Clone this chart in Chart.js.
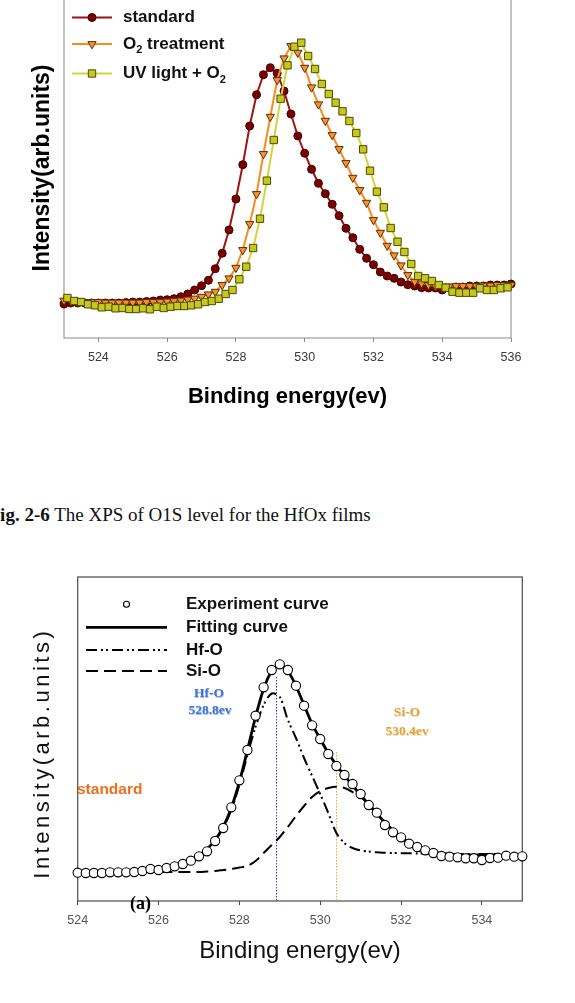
<!DOCTYPE html>
<html>
<head>
<meta charset="utf-8">
<title>XPS O1S</title>
<script src="https://cdn.jsdelivr.net/npm/chart.js@4.4.1/dist/chart.umd.min.js"></script>
<style>
    html, body { margin: 0; padding: 0; background: #fff; }
    body { width: 575px; height: 1003px; position: relative; overflow: hidden; font-family: 'Liberation Sans', Arial, sans-serif; }
    canvas { position: absolute; left: 0; }
    #top-chart { top: -20px; }
    #bottom-chart { top: 560px; }
    .note { position: absolute; white-space: nowrap; line-height: 1; transform: translate(-50%, -50%); }
    .peak { font-family: 'Liberation Serif', 'Times New Roman', serif; font-weight: bold; font-size: 13.5px; }
    .hf { color: #4071d8; text-shadow: 0.6px 0.6px 0 rgba(64, 113, 216, 0.45); }
    .si { color: #e2a540; text-shadow: 0.6px 0.6px 0 rgba(226, 165, 64, 0.45); }
    .sample { color: #ef6f1e; font-weight: bold; font-size: 15.5px; transform: translate(0, -50%); }
    .panel { font-family: 'Liberation Serif', 'Times New Roman', serif; font-weight: bold; font-size: 18px; transform: translate(0, -50%); }
    .caption { position: absolute; left: -11.5px; top: 504px; font-family: 'Liberation Serif', 'Times New Roman', serif; font-size: 19px; white-space: nowrap; color: #111; }
</style>
</head>
<body>
<canvas id="top-chart" width="575" height="440"></canvas>
<div class="caption"><b>Fig. 2-6</b> The XPS of O1S level for the HfOx films</div>
<canvas id="bottom-chart" width="575" height="443"></canvas>
<div class="note peak hf" style="left:209px; top:693px;">Hf-O</div>
<div class="note peak hf" style="left:210px; top:710px;">528.8ev</div>
<div class="note peak si" style="left:407px; top:712px;">Si-O</div>
<div class="note peak si" style="left:407px; top:731px;">530.4ev</div>
<div class="note sample" style="left:77px; top:789px;">standard</div>
<div class="note panel" style="left:130px; top:903px;">(a)</div>
<script>
// --- Fig. 2-6, O1S spectra of the three treatments ---
const topEnergy = [
    523.0, 523.2, 523.4, 523.6, 523.8, 524.0, 524.2, 524.4, 524.6, 524.8,
    525.0, 525.2, 525.4, 525.6, 525.8, 526.0, 526.2, 526.4, 526.6, 526.8,
    527.0, 527.2, 527.4, 527.6, 527.8, 528.0, 528.2, 528.4, 528.6, 528.8,
    529.0, 529.2, 529.4, 529.6, 529.8, 530.0, 530.2, 530.4, 530.6, 530.8,
    531.0, 531.2, 531.4, 531.6, 531.8, 532.0, 532.2, 532.4, 532.6, 532.8,
    533.0, 533.2, 533.4, 533.6, 533.8, 534.0, 534.2, 534.4, 534.6, 534.8,
    535.0, 535.2, 535.4, 535.6, 535.8, 536.0
];
const uvEnergy = [
    523.1, 523.3, 523.5, 523.7, 523.9, 524.1, 524.3, 524.5, 524.7, 524.9,
    525.1, 525.3, 525.5, 525.7, 525.9, 526.1, 526.3, 526.5, 526.7, 526.9,
    527.1, 527.3, 527.5, 527.7, 527.9, 528.1, 528.3, 528.5, 528.7, 528.9,
    529.1, 529.3, 529.5, 529.7, 529.9, 530.1, 530.3, 530.5, 530.7, 530.9,
    531.1, 531.3, 531.5, 531.7, 531.9, 532.1, 532.3, 532.5, 532.7, 532.9,
    533.1, 533.3, 533.5, 533.7, 533.9, 534.1, 534.3, 534.5, 534.7, 534.9,
    535.1, 535.3, 535.5, 535.7, 535.9
];
const standardValues = [
    34, 35, 35, 35, 35, 35, 35, 35, 35, 35.5,
    36, 36, 36.5, 37, 38, 38.3, 39.3, 41.3, 44, 48,
    52.3, 57.7, 69.3, 84.7, 108, 139, 173.3, 212, 243.3, 263.3,
    270.3, 264.7, 247, 224, 202, 184.7, 168.7, 154.7, 144.3, 133.7,
    122.3, 109.7, 100.3, 88.7, 79.7, 73.3, 66, 62, 59.7, 56,
    53.3, 52, 50.3, 50, 50, 48, 50, 51, 51, 52,
    52, 52, 53, 53, 53, 54
];
const o2Values = [
    37.5, 37, 36.5, 36, 36, 36, 35.5, 35.5, 35.5, 35.5,
    35.5, 35.5, 36, 36, 36, 36.5, 37, 37.5, 38.5, 39.5,
    41.3, 43.7, 46.3, 53, 59.7, 70.3, 88, 114, 144, 184,
    221.3, 258, 279.7, 292, 285.3, 270.3, 250.7, 233.7, 217.3, 203,
    189, 175, 160.3, 148, 135.3, 118, 105.3, 92.3, 82.7, 72.7,
    63, 56.3, 54.7, 53, 52, 51.5, 51.5, 52, 52, 52,
    52, 52.5, 52.5, 53, 53, 53
];
const uvValues = [
    40, 37, 36, 33.7, 32.7, 30.7, 31.3, 29.7, 30, 29,
    29, 29.7, 28.7, 31.3, 30, 31.3, 32, 32, 32.7, 33.7,
    36, 37, 39.3, 44, 48, 58.7, 71.3, 90, 119.3, 157.3,
    198, 239.3, 272.7, 291.3, 295.3, 282, 269, 254, 244, 235.3,
    226.7, 217, 205, 188.7, 167.3, 146.3, 130.7, 110, 96.3, 86,
    74, 62, 59.7, 57, 53, 50.3, 46.3, 45.3, 45.3, 45.3,
    49.7, 48, 48, 49.7, 50.7
];
const topLabels = ['standard', 'O_2 treatment', 'UV light + O_2'];
const topTicks = [524, 526, 528, 530, 532, 534, 536];

// --- panel (a), peak fit of the standard film ---
const expEnergy = [
    524.0, 524.2, 524.4, 524.6, 524.8, 525.0, 525.2, 525.4, 525.6, 525.8,
    526.0, 526.2, 526.4, 526.6, 526.8, 527.0, 527.2, 527.4, 527.6, 527.8,
    528.0, 528.2, 528.4, 528.6, 528.8, 529.0, 529.2, 529.4, 529.6, 529.8,
    530.0, 530.2, 530.4, 530.6, 530.8, 531.0, 531.2, 531.4, 531.6, 531.8,
    532.0, 532.2, 532.4, 532.6, 532.8, 533.0, 533.2, 533.4, 533.6, 533.8,
    534.0, 534.2, 534.4, 534.6, 534.8, 535.0
];
const expValues = [
    28.3, 28, 28, 28, 28.7, 28.7, 28.7, 29, 30, 32,
    31, 33, 34.7, 37, 40.3, 44.7, 49.7, 60, 73, 93.7,
    120.7, 151, 185.3, 213.7, 231, 236.7, 231, 215.3, 195.3, 175.7,
    162, 147, 135, 126, 117, 107, 96, 88.3, 76, 68.7,
    63.7, 57.3, 54, 50.7, 48, 45, 44.3, 43.7, 42.7, 42.7,
    41, 43, 43.3, 45.3, 44.3, 44.7
];
const fitEnergy = [
    525.6, 525.8, 526.0, 526.2, 526.4, 526.6, 526.8, 527.0, 527.2, 527.4,
    527.6, 527.8, 528.0, 528.2, 528.4, 528.6, 528.8, 529.0, 529.2, 529.4,
    529.6, 529.8, 530.0, 530.2, 530.4, 530.6, 530.8, 531.0, 531.2, 531.4,
    531.6, 531.8, 532.0, 532.2, 532.4, 532.6, 532.8, 533.0, 533.2, 533.4,
    533.6, 533.8, 534.0, 534.2, 534.4
];
const fitValues = [
    29.5, 30.5, 31.5, 33, 35, 37.5, 41, 45.5, 52, 61,
    74, 93, 119, 151, 184, 212, 230, 236, 230, 215,
    196, 177, 162, 148, 136, 125.5, 115.5, 106, 96.5, 87.5,
    78.5, 70.5, 64, 58.5, 54, 51, 49, 47.5, 46.8, 46.3,
    46, 46, 46, 46, 46
];
const hfoValues = [
    29.5, 30.5, 31.5, 33, 35, 37.5, 41, 45.5, 52, 60.5,
    73, 91, 116, 146, 174, 196, 207.5, 204, 181, 163,
    143, 125, 107, 88, 68, 58, 53, 50.5, 49.5, 48.7,
    48.3, 48, 47.8, 47.7, 47.5, 47.3, 47.2, 47, 47, 47,
    47, 47, 47, 47, 47
];
const sioValues = [
    29, 29, 29, 29, 29, 29, 29, 29, 29.5, 30,
    31, 32, 33.5, 35, 40, 48, 56, 64, 74, 85,
    95, 104, 110, 113, 114.3, 113, 109, 104, 97, 88,
    79, 71, 63, 56, 51, 48, 47, 46.5, 46, 46,
    46, 46, 46, 46, 46
];
const bottomLabels = ['Experiment curve', 'Fitting curve', 'Hf-O', 'Si-O'];
const bottomTicks = [524, 526, 528, 530, 532, 534];
const peakEnergy = [528.9, 530.4];
const peakLineTop = [224, 149];
const peakLineColors = ['#3140e0', '#f5a623'];
const intensityTitle = 'Intensity(arb.units)';

const FONT = "'Liberation Sans', Arial, sans-serif";
Chart.defaults.font.family = FONT;
Chart.defaults.color = '#3a3a3a';

function toPoints(xs, ys) {
    return xs.map((x, i) => ({ x, y: ys[i] }));
}

function fixedTicks(values) {
    return (scale) => {
        scale.ticks = values.map((value) => ({ value }));
    };
}

const framePlugin = {
    id: 'frame',
    beforeDatasetsDraw(chart, args, opts) {
        const { ctx, chartArea: a } = chart;
        ctx.save();
        ctx.strokeStyle = opts.color;
        ctx.lineWidth = opts.width;
        ctx.strokeRect(a.left, a.top, a.right - a.left, a.bottom - a.top);
        ctx.restore();
    }
};

const peakLinePlugin = {
    id: 'peakLines',
    beforeDatasetsDraw(chart, args, opts) {
        if (!opts.energies) {
            return;
        }
        const { ctx, scales: { x, y } } = chart;
        ctx.save();
        ctx.lineWidth = 1;
        ctx.setLineDash([1.5, 1.5]);
        opts.energies.forEach((e, i) => {
            const px = Math.round(x.getPixelForValue(e)) + 0.5;
            ctx.strokeStyle = opts.colors[i];
            ctx.beginPath();
            ctx.moveTo(px, y.getPixelForValue(opts.tops[i]));
            ctx.lineTo(px, y.bottom);
            ctx.stroke();
        });
        ctx.restore();
    }
};

// rotated, letter-spaced y title (the lower panel's label is spread out)
const sideTitlePlugin = {
    id: 'sideTitle',
    afterDraw(chart, args, opts) {
        if (!opts.text) {
            return;
        }
        const ctx = chart.ctx;
        ctx.save();
        ctx.translate(opts.x, opts.y);
        ctx.rotate(-Math.PI / 2);
        ctx.font = opts.font;
        ctx.fillStyle = opts.color;
        if ('letterSpacing' in ctx) {
            ctx.letterSpacing = `${opts.spacing}px`;
        }
        ctx.textAlign = 'center';
        ctx.textBaseline = 'middle';
        ctx.fillText(opts.text, opts.spacing / 2, 0);
        ctx.restore();
    }
};

// legend drawn inside the plot, "_2" in a label becomes a subscript
const legendPlugin = {
    id: 'innerLegend',
    afterDatasetsDraw(chart, args, opts) {
        const ctx = chart.ctx;
        ctx.save();
        opts.items.forEach((item, i) => {
            const ds = chart.data.datasets[item.dataset];
            const y = opts.rows[i];
            if (item.line) {
                ctx.strokeStyle = ds.borderColor;
                ctx.lineWidth = ds.borderWidth;
                ctx.setLineDash(ds.borderDash || []);
                ctx.beginPath();
                ctx.moveTo(opts.x1, y);
                ctx.lineTo(opts.x2, y);
                ctx.stroke();
                ctx.setLineDash([]);
            }
            if (item.marker) {
                ctx.fillStyle = ds.pointBackgroundColor;
                ctx.strokeStyle = ds.pointBorderColor;
                ctx.lineWidth = ds.pointBorderWidth;
                Chart.helpers.drawPoint(ctx, {
                    pointStyle: ds.pointStyle,
                    radius: item.radius || ds.pointRadius,
                    rotation: ds.pointRotation || 0,
                    borderWidth: ds.pointBorderWidth
                }, (opts.x1 + opts.x2) / 2, y);
            }
            let tx = opts.textX;
            ctx.fillStyle = '#111';
            ctx.textBaseline = 'middle';
            ctx.textAlign = 'left';
            item.text.split(/(_\d)/).forEach((part) => {
                if (!part) return;
                const sub = part.startsWith('_');
                const str = sub ? part.slice(1) : part;
                ctx.font = sub ? `bold 11px ${FONT}` : `bold ${opts.size}px ${FONT}`;
                ctx.fillText(str, tx, sub ? y + 6 : y);
                tx += ctx.measureText(str).width;
            });
        });
        ctx.restore();
    }
};

const topChart = new Chart(document.getElementById('top-chart'), {
    type: 'line',
    data: {
        datasets: [
            {
                label: topLabels[0],
                data: toPoints(topEnergy, standardValues),
                order: 3,
                borderColor: '#9c1515',
                borderWidth: 2,
                pointStyle: 'circle',
                pointRadius: 4,
                pointBackgroundColor: '#7d0000',
                pointBorderColor: '#3a0000',
                pointBorderWidth: 1,
                clip: false
            },
            {
                label: topLabels[1],
                data: toPoints(topEnergy, o2Values),
                order: 2,
                borderColor: '#ff8a1c',
                borderWidth: 2,
                pointStyle: 'triangle',
                pointRotation: 180,
                pointRadius: 4.8,
                pointBackgroundColor: '#f7922e',
                pointBorderColor: '#5a2e00',
                pointBorderWidth: 1,
                clip: false
            },
            {
                label: topLabels[2],
                data: toPoints(uvEnergy, uvValues),
                order: 1,
                borderColor: '#d4d43c',
                borderWidth: 2,
                pointStyle: 'rect',
                pointRadius: 5.2,
                pointBackgroundColor: '#c8c81c',
                pointBorderColor: '#4a4a00',
                pointBorderWidth: 1,
                clip: false
            }
        ]
    },
    options: {
        responsive: false,
        animation: false,
        events: [],
        devicePixelRatio: 1,
        layout: { padding: { top: 18, right: 64, bottom: 0, left: 0 } },
        plugins: {
            legend: { display: false },
            tooltip: { enabled: false },
            frame: { color: '#8a8a8a', width: 1 },
            innerLegend: {
                rows: [37.5, 64, 93.5],
                x1: 72, x2: 112, textX: 123, size: 17,
                items: [
                    { dataset: 0, text: topLabels[0], line: true, marker: true },
                    { dataset: 1, text: topLabels[1], line: true, marker: true },
                    { dataset: 2, text: topLabels[2], line: true, marker: true }
                ]
            }
        },
        scales: {
            x: {
                type: 'linear',
                min: 523,
                max: 536,
                afterBuildTicks: fixedTicks(topTicks),
                afterFit: (scale) => { scale.height = 82; },
                border: { display: false },
                grid: { display: true, drawOnChartArea: false, drawTicks: true, tickLength: 4, color: '#8a8a8a' },
                ticks: { padding: 8, color: '#3a3a3a', font: { size: 12.5 }, maxRotation: 0 },
                title: {
                    display: true,
                    text: 'Binding energy(ev)',
                    color: '#000',
                    font: { size: 22, weight: 'bold' },
                    padding: { top: 0, bottom: 10 }
                }
            },
            y: {
                min: 0,
                max: 340,
                afterFit: (scale) => { scale.width = 64; },
                border: { display: false },
                grid: { display: false },
                ticks: { display: false },
                title: {
                    display: true,
                    text: intensityTitle,
                    color: '#000',
                    font: { size: 23, weight: 'bold' },
                    padding: { top: 29, bottom: 0 }
                }
            }
        }
    },
    plugins: [framePlugin, legendPlugin]
});

const bottomChart = new Chart(document.getElementById('bottom-chart'), {
    type: 'line',
    data: {
        datasets: [
            {
                label: bottomLabels[0],
                data: toPoints(expEnergy, expValues),
                order: 1,
                showLine: false,
                pointStyle: 'circle',
                pointRadius: 4.6,
                pointBackgroundColor: '#fff',
                pointBorderColor: '#000',
                pointBorderWidth: 1.1,
                clip: false
            },
            {
                label: bottomLabels[1],
                data: toPoints(fitEnergy, fitValues),
                order: 2,
                borderColor: '#000',
                borderWidth: 2.8,
                tension: 0.3,
                pointRadius: 0
            },
            {
                label: bottomLabels[2],
                data: toPoints(fitEnergy, hfoValues),
                order: 3,
                borderColor: '#000',
                borderWidth: 2,
                borderDash: [11, 4, 2, 3, 2, 4],
                tension: 0.3,
                pointRadius: 0
            },
            {
                label: bottomLabels[3],
                data: toPoints(fitEnergy, sioValues),
                order: 4,
                borderColor: '#000',
                borderWidth: 2,
                borderDash: [12, 6],
                tension: 0.3,
                pointRadius: 0
            }
        ]
    },
    options: {
        responsive: false,
        animation: false,
        events: [],
        devicePixelRatio: 1,
        layout: { padding: { top: 17, right: 52.7, bottom: 0, left: 0 } },
        plugins: {
            legend: { display: false },
            tooltip: { enabled: false },
            frame: { color: '#4a4a4a', width: 1.2 },
            peakLines: { energies: peakEnergy, tops: peakLineTop, colors: peakLineColors },
            sideTitle: { text: intensityTitle, x: 43, y: 195, font: `22px ${FONT}`, color: '#111', spacing: 3.5 },
            innerLegend: {
                rows: [44.3, 67.3, 90, 111],
                x1: 86, x2: 167, textX: 186, size: 17,
                items: [
                    { dataset: 0, text: bottomLabels[0], line: false, marker: true, radius: 3 },
                    { dataset: 1, text: bottomLabels[1], line: true, marker: false },
                    { dataset: 2, text: bottomLabels[2], line: true, marker: false },
                    { dataset: 3, text: bottomLabels[3], line: true, marker: false }
                ]
            }
        },
        scales: {
            x: {
                type: 'linear',
                min: 524,
                max: 535,
                afterBuildTicks: fixedTicks(bottomTicks),
                afterFit: (scale) => { scale.height = 102; },
                border: { display: false },
                grid: { display: true, drawOnChartArea: false, drawTicks: true, tickLength: 4, color: '#444' },
                ticks: { padding: 8, color: '#555', font: { size: 12.5 }, maxRotation: 0 },
                title: {
                    display: true,
                    text: 'Binding energy(ev)',
                    color: '#111',
                    font: { size: 24 },
                    padding: { top: 0, bottom: 37 }
                }
            },
            y: {
                min: 0,
                max: 324,
                afterFit: (scale) => { scale.width = 77.7; },
                border: { display: false },
                grid: { display: false },
                ticks: { display: false },
                title: { display: false }
            }
        }
    },
    plugins: [framePlugin, peakLinePlugin, sideTitlePlugin, legendPlugin]
});
</script>
</body>
</html>
